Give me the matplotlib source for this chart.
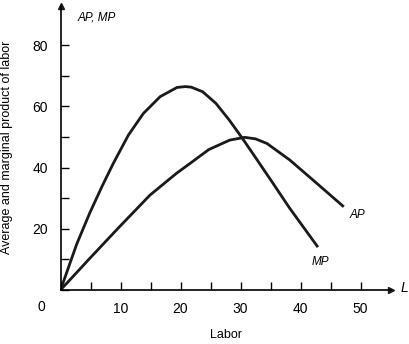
import matplotlib.pyplot as plt

# values
mp_labor = [0, 2.7, 4.9, 6.9, 8.8, 11.3, 13.8, 16.6, 19.4, 20.8, 21.8,
            23.7, 25.9, 28.1, 30.3, 32.6, 35.4, 38.2, 42.9]
mp_value = [0, 15.0, 25.3, 33.8, 41.4, 50.6, 57.7, 63.2, 66.2, 66.5, 66.3,
            64.8, 61.0, 55.6, 49.6, 43.0, 34.9, 26.7, 14.0]
ap_labor = [0, 5.0, 9.6, 14.9, 19.3, 21.6, 24.7, 28.2, 30.7, 32.5, 34.4,
            38.2, 42.1, 47.2]
ap_value = [0, 10.6, 20.2, 31.0, 38.1, 41.4, 45.9, 49.0, 49.9, 49.4, 47.9,
            42.5, 35.9, 27.2]

xticks = [0, 5, 10, 15, 20, 25, 30, 35, 40, 45, 50]
xlabels = ['', '', '10', '', '20', '', '30', '', '40', '', '50']
yticks = [0, 10, 20, 30, 40, 50, 60, 70, 80]
ylabels = ['', '', '20', '', '40', '', '60', '', '80']

plt.rcParams['font.family'] = ['Liberation Sans Narrow', 'Liberation Sans', 'DejaVu Sans']

fig = plt.figure(figsize=(4.1, 3.44), dpi=100)
ax = fig.add_axes([0.1476, 0.157, 0.805, 0.827])

ax.plot(mp_labor, mp_value, color='#1a1a1a', lw=2.0, solid_capstyle='butt', solid_joinstyle='round')
ax.plot(ap_labor, ap_value, color='#1a1a1a', lw=2.0, solid_capstyle='butt', solid_joinstyle='round')

ax.set_xlim(0, 55)
ax.set_ylim(0, 93)
ax.spines['top'].set_visible(False)
ax.spines['right'].set_visible(False)
ax.spines['left'].set_linewidth(1.2)
ax.spines['bottom'].set_linewidth(1.2)

ax.set_xticks(xticks)
ax.set_xticklabels(xlabels)
ax.set_yticks(yticks)
ax.set_yticklabels(ylabels)
ax.tick_params(direction='in', length=6, width=1, labelsize=10, pad=9)

# arrow heads on the axes
ax.plot([1], [0], marker='>', ms=5, color='#1a1a1a', transform=ax.transAxes, clip_on=False)
ax.plot([0], [1], marker='^', ms=5, color='#1a1a1a', transform=ax.transAxes, clip_on=False)

ax.text(-2.6, -3.2, '0', ha='right', va='top', fontsize=10)
ax.text(2.8, 89, 'AP, MP', fontsize=8.5, style='italic', va='center')
ax.text(56.7, 0.5, 'L', fontsize=10, style='italic', va='center')
ax.text(48.2, 24.6, 'AP', fontsize=8.5, style='italic', va='center')
ax.text(41.9, 9.0, 'MP', fontsize=8.5, style='italic', va='center')

ax.set_xlabel('Labor', fontsize=9, labelpad=9)
ax.set_ylabel('Average and marginal product of labor', fontsize=9, labelpad=14)

fig.savefig('out.png', dpi=100)
